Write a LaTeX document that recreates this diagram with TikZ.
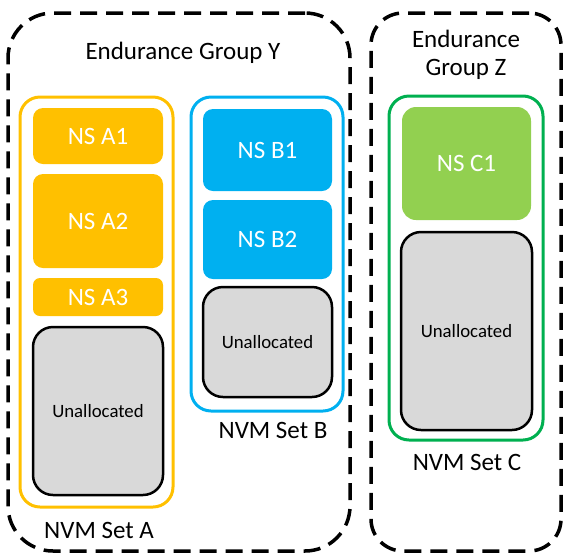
\documentclass[tikz,border=0pt]{standalone}
\usepackage{fontspec}
\setmainfont{Carlito}
\definecolor{cA}{HTML}{FFC000}
\definecolor{cB}{HTML}{00B0F0}
\definecolor{cC}{HTML}{00B050}
\definecolor{cCf}{HTML}{92D050}
\definecolor{cU}{HTML}{D9D9D9}
\begin{document}
\begin{tikzpicture}[x=1pt,y=-1pt,
  grp/.style={draw=black,line width=3.5pt,dash pattern=on 17pt off 9pt,rectangle,inner sep=0pt},
  setbox/.style={draw=#1,line width=3pt,rectangle,rounded corners=20pt,inner sep=0pt},
  ns/.style={fill=#1,draw=none,rectangle,rounded corners=10pt,inner sep=0pt,minimum width=130pt,text=white,font=\fontsize{25}{30}\selectfont},
  unal/.style={fill=cU,draw=black,line width=2.5pt,rectangle,rounded corners=20pt,inner sep=0pt,minimum width=130pt,font=\fontsize{18.8}{22}\selectfont},
  lbl/.style={font=\fontsize{25}{30}\selectfont,inner sep=0pt,align=center}]
\useasboundingbox (0,0) rectangle (568,558);
% endurance groups
\node[grp,rounded corners=45pt,minimum width=342pt,minimum height=538pt] (gY) at (179,282) {};
\node[grp,rounded corners=32pt,minimum width=190pt,minimum height=538pt] (gZ) at (466,282) {};
\node[lbl] (tY) at (183,53) {Endurance Group Y};
\node[lbl] (tZ1) at (466,39) {Endurance};
\node[lbl] (tZ2) at (466,69) {Group Z};
% NVM sets
\node[setbox=cA,minimum width=153pt,minimum height=410pt] (sA) at (96.5,302) {};
\node[setbox=cB,minimum width=152pt,minimum height=314pt] (sB) at (267,254) {};
\node[setbox=cC,minimum width=154pt,minimum height=344pt] (sC) at (466,268) {};
\node[lbl] (tA) at (99,530) {NVM Set A};
\node[lbl] (tB) at (273,430) {NVM Set B};
\node[lbl] (tC) at (467,462) {NVM Set C};
% set A
\node[ns=cA,minimum height=56pt] (a1) at (98,136) {NS A1};
\node[ns=cA,minimum height=94pt] (a2) at (98,221) {NS A2};
\node[ns=cA,minimum height=38pt,rounded corners=7pt] (a3) at (98,297) {NS A3};
\node[unal,minimum height=168pt] (ua) at (98,411) {Unallocated};
% set B
\node[ns=cB,minimum width=129pt,minimum height=82pt] (b1) at (267.5,150) {NS B1};
\node[ns=cB,minimum width=129pt,minimum height=79pt] (b2) at (267.5,239.5) {NS B2};
\node[unal,minimum width=129pt,minimum height=110pt] (ub) at (267.5,342) {Unallocated};
% set C
\node[ns=cCf,minimum width=129pt,minimum height=113pt,rounded corners=14pt] (c1) at (466.5,163.5) {NS C1};
\node[unal,minimum width=131pt,minimum height=198pt] (uc) at (466.5,331) {Unallocated};
\end{tikzpicture}
\end{document}
